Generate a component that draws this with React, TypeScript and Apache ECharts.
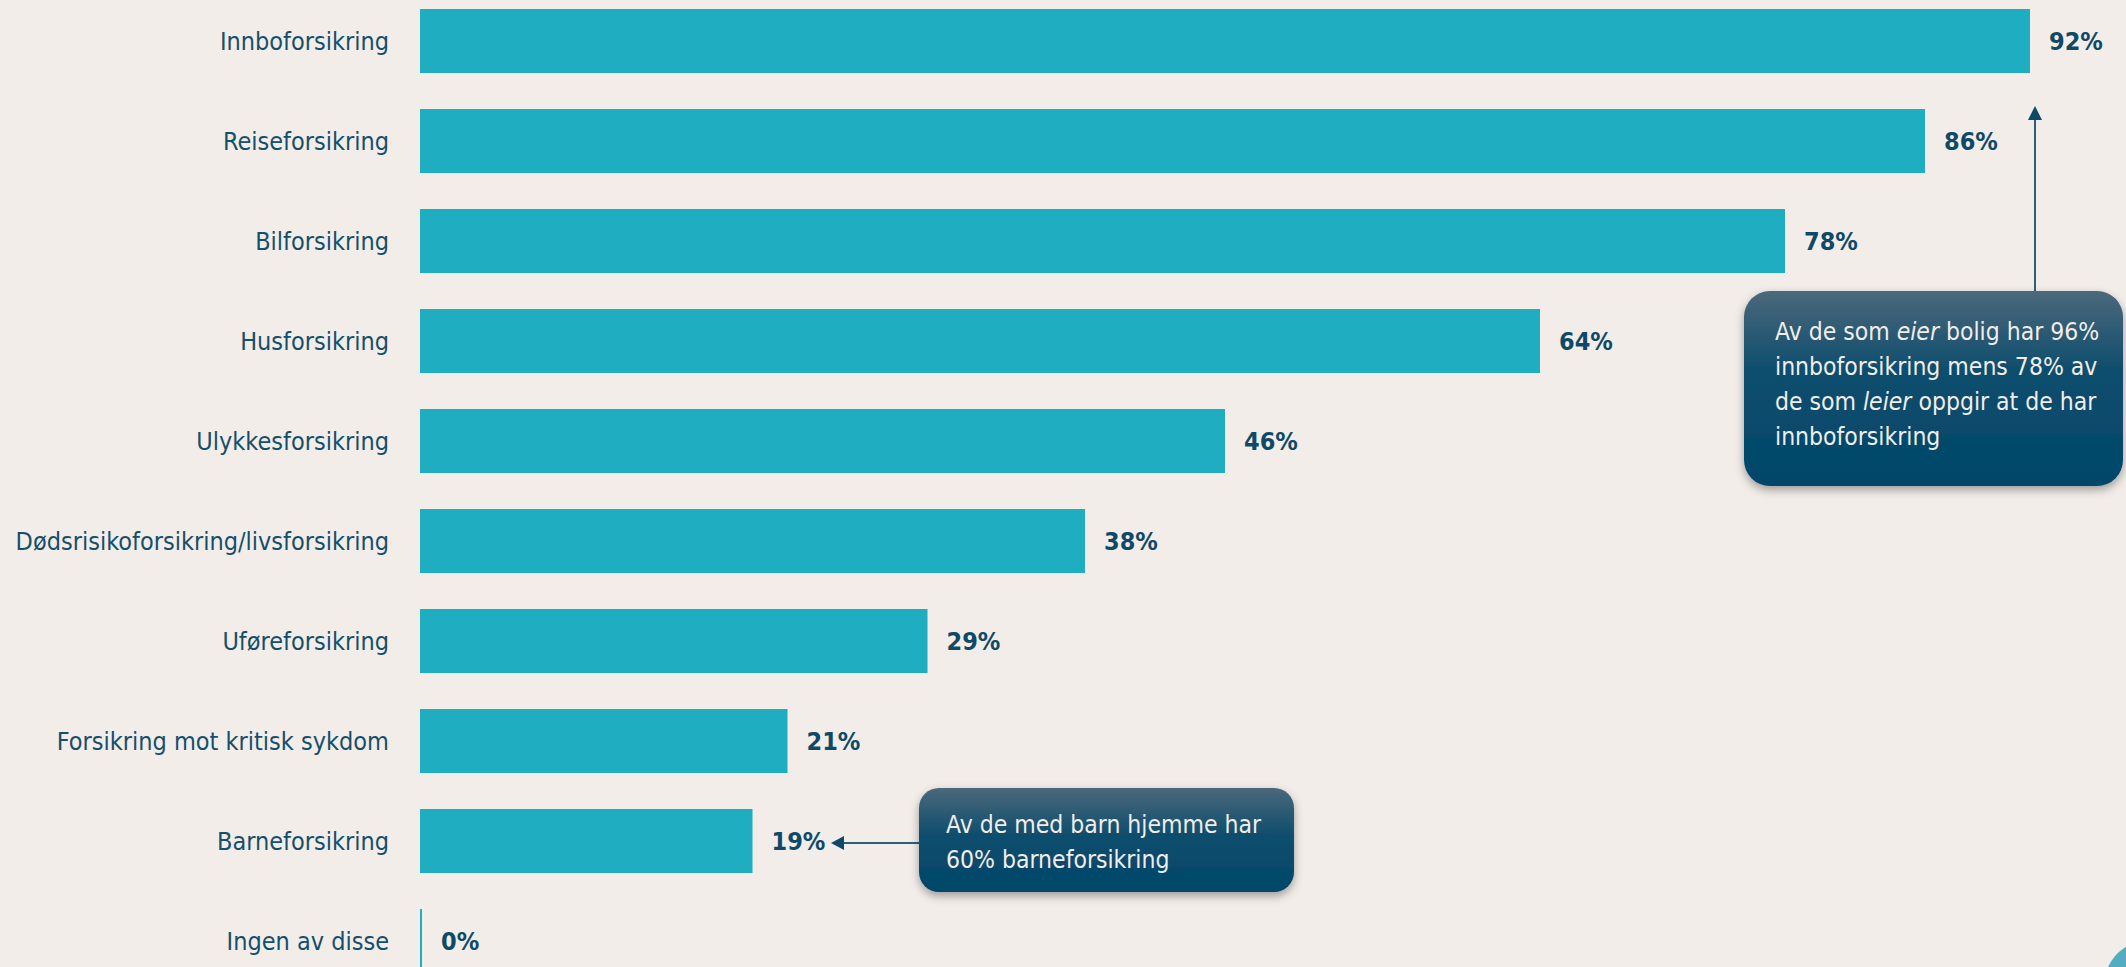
import React, { useEffect, useRef } from "react";
import * as echarts from "echarts";

const categories = [
  "Innboforsikring",
  "Reiseforsikring",
  "Bilforsikring",
  "Husforsikring",
  "Ulykkesforsikring",
  "Dødsrisikoforsikring/livsforsikring",
  "Uføreforsikring",
  "Forsikring mot kritisk sykdom",
  "Barneforsikring",
  "Ingen av disse",
];
const values = [92, 86, 78, 64, 46, 38, 29, 21, 19, 0];

const note1 =
  "Av de som {i|eier} bolig har 96%\ninnboforsikring mens 78% av\nde som {i|leier} oppgir at de har\ninnboforsikring";
const note2 = "Av de med barn hjemme har\n60% barneforsikring";

const FONT = "'DejaVu Sans Condensed', 'DejaVu Sans', sans-serif";
const BAR = "#1eadc1";
const NAVY = "#0e4a67";
const BG = "#f2ede9";

export default function App() {
  const ref = useRef<HTMLDivElement>(null);
  useEffect(() => {
    if (!ref.current) return;
    const chart = echarts.init(ref.current, null, { renderer: "svg" });
    const boxFill = new echarts.graphic.LinearGradient(0, 0, 0, 1, [
      { offset: 0, color: "#4b687b" },
      { offset: 0.4, color: "#0f4e6d" },
      { offset: 1, color: "#00466a" },
    ]);
    const boxFill2 = new echarts.graphic.LinearGradient(0, 0, 0, 1, [
      { offset: 0, color: "#4b687b" },
      { offset: 0.45, color: "#0f4e6d" },
      { offset: 1, color: "#00466a" },
    ]);
    const textStyle = {
      fill: "#f1ede9",
      fontSize: 24.5,
      fontFamily: FONT,
      lineHeight: 35,
    };
    chart.setOption({
      animation: false,
      backgroundColor: BG,
      grid: {
        left: 420,
        top: -9,
        width: 1750,
        height: 1000,
        containLabel: false,
        outerBoundsMode: "none",
      },
      xAxis: { type: "value", min: 0, max: 100, show: false },
      yAxis: {
        type: "category",
        data: categories,
        inverse: true,
        axisLine: { show: false },
        axisTick: { show: false },
        axisLabel: { margin: 31, fontSize: 25, color: "#164f6b", fontFamily: FONT },
      },
      series: [
        {
          type: "bar",
          data: values,
          barCategoryGap: "36%",
          barMinHeight: 2,
          itemStyle: { color: BAR },
          label: {
            show: true,
            position: "right",
            distance: 19,
            formatter: "{c}%",
            fontSize: 25,
            fontWeight: "bold",
            color: NAVY,
            fontFamily: FONT,
          },
        },
      ],
      graphic: [
        // arrow 1
        { type: "line", shape: { x1: 2035, y1: 292, x2: 2035, y2: 118 }, style: { stroke: "#2e5f79", lineWidth: 2 } },
        { type: "polygon", shape: { points: [[2028, 120], [2042, 120], [2035, 106]] }, style: { fill: "#0e4a67" } },
        {
          type: "rect",
          shape: { x: 1744, y: 291, width: 379, height: 195, r: 26 },
          style: { fill: boxFill, shadowBlur: 10, shadowOffsetY: 4, shadowColor: "rgba(0,0,0,0.35)" },
        },
        {
          type: "text",
          x: 1775,
          y: 314,
          style: {
            ...textStyle,
            text: note1,
            rich: {
              i: { ...textStyle, fontStyle: "italic" },
            },
          },
        },
        // arrow 2
        { type: "line", shape: { x1: 920, y1: 843, x2: 842, y2: 843 }, style: { stroke: "#2e5f79", lineWidth: 2 } },
        { type: "polygon", shape: { points: [[844, 836], [844, 850], [831, 843]] }, style: { fill: "#0e4a67" } },
        {
          type: "rect",
          shape: { x: 919, y: 788, width: 375, height: 104, r: 20 },
          style: { fill: boxFill2, shadowBlur: 10, shadowOffsetY: 4, shadowColor: "rgba(0,0,0,0.35)" },
        },
        {
          type: "text",
          x: 946,
          y: 807,
          style: { ...textStyle, text: note2 },
        },
        // decorative blob
        { type: "ellipse", shape: { cx: 2150, cy: 986, rx: 46, ry: 46 }, style: { fill: "#52adc2" } },
      ],
    });
    return () => chart.dispose();
  }, []);
  return (
    <>
      <style>{`#root svg text, #root svg tspan { font-stretch: condensed !important; }`}</style>
      <div
        ref={ref}
        style={{ position: "fixed", left: 0, top: 0, width: 2126, height: 967 }}
      />
    </>
  );
}
